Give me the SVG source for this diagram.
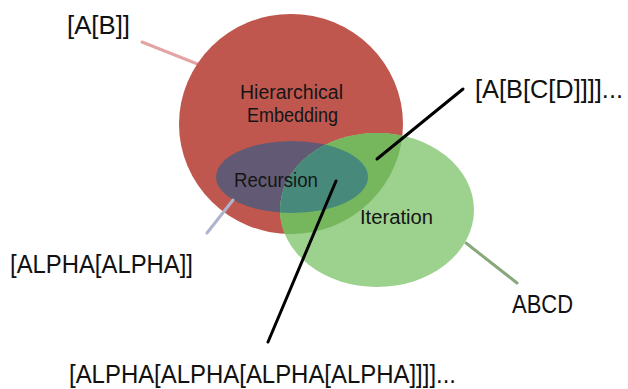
<svg xmlns="http://www.w3.org/2000/svg" width="628" height="389" viewBox="0 0 628 389">
<style>
.lbl{font-family:"Liberation Sans",Arial,sans-serif;font-size:25.5px;fill:#111}
.in{font-family:"Liberation Sans",Arial,sans-serif;font-size:19.5px;fill:#151515}
.con{fill:none;stroke-width:3;stroke-linecap:round}
</style>
<defs>
<clipPath id="gclip"><ellipse cx="377" cy="210" rx="97" ry="77"/></clipPath>
</defs>
<rect width="628" height="389" fill="#fff"/>
<g id="connectors-back">
<line class="con" x1="142" y1="42" x2="200" y2="65" stroke="#e4a4a6"/>
<line class="con" x1="466" y1="243" x2="517" y2="283" stroke="#86a87a"/>
</g>
<g id="hierarchical-embedding">
<ellipse cx="291" cy="124" rx="112" ry="110" fill="#c0574f"/>
</g>
<g id="recursion">
<ellipse cx="292" cy="177" rx="76" ry="36" fill="#625a74"/>
</g>
<g id="iteration">
<ellipse cx="377" cy="210" rx="97" ry="77" fill="#9dd18e"/>
<g clip-path="url(#gclip)">
<ellipse cx="291" cy="124" rx="112" ry="110" fill="#76b75d"/>
<ellipse cx="292" cy="177" rx="76" ry="36" fill="#478a7c"/>
</g>
</g>
<g id="inner-labels">
<text class="in" x="240" y="99" textLength="103" lengthAdjust="spacingAndGlyphs">Hierarchical</text>
<text class="in" x="247" y="122" textLength="91" lengthAdjust="spacingAndGlyphs">Embedding</text>
<text class="in" x="234" y="187" textLength="84" lengthAdjust="spacingAndGlyphs">Recursion</text>
<text class="in" x="360" y="224" textLength="73" lengthAdjust="spacingAndGlyphs">Iteration</text>
</g>
<g id="connectors">
<line class="con" x1="207" y1="233" x2="233" y2="200" stroke="#aeb3cf"/>
<line class="con" x1="463" y1="89" x2="377" y2="159" stroke="#000"/>
<line class="con" x1="336" y1="181" x2="268" y2="342" stroke="#000"/>
</g>
<g id="labels">
<text class="lbl" x="67" y="34" textLength="63" lengthAdjust="spacingAndGlyphs">[A[B]]</text>
<text class="lbl" x="475" y="98" textLength="148" lengthAdjust="spacingAndGlyphs">[A[B[C[D]]]]...</text>
<text class="lbl" x="10" y="273" textLength="183" lengthAdjust="spacingAndGlyphs">[ALPHA[ALPHA]]</text>
<text class="lbl" x="512" y="313" textLength="61" lengthAdjust="spacingAndGlyphs">ABCD</text>
<text class="lbl" x="69" y="383" textLength="387" lengthAdjust="spacingAndGlyphs">[ALPHA[ALPHA[ALPHA[ALPHA]]]]...</text>
</g>
</svg>
